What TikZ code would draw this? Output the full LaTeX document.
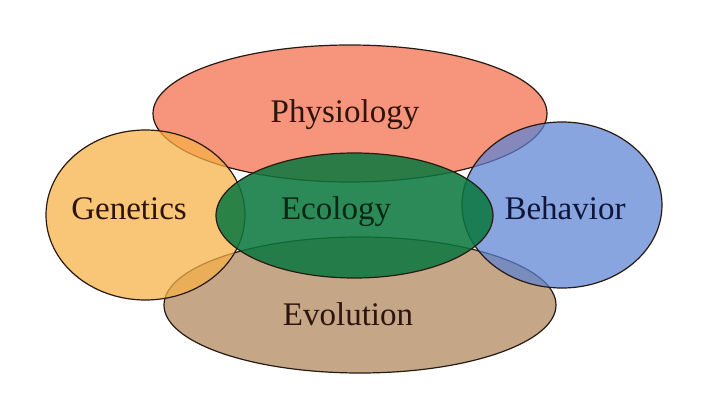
\documentclass[tikz,border=0pt]{standalone}
\usepackage{fontspec}
\setmainfont{Liberation Serif}
\definecolor{physC}{RGB}{244,108,74}
\definecolor{genC}{RGB}{248,177,69}
\definecolor{behC}{RGB}{91,131,212}
\definecolor{evoC}{RGB}{176,134,91}
\definecolor{ecoC}{RGB}{10,119,62}
\definecolor{edgeC}{RGB}{40,26,18}
\definecolor{txtBrown}{RGB}{45,20,12}
\definecolor{txtGreen}{RGB}{8,40,20}
\definecolor{txtNavy}{RGB}{14,22,60}
\tikzset{
  blob/.style={draw=edgeC, line width=1.2pt, fill opacity=0.72},
  lbl/.style={anchor=base, inner sep=0pt, font=\fontsize{33}{38}\selectfont}
}
\begin{document}
\begin{tikzpicture}[x=1pt,y=-1pt]
\useasboundingbox (0,0) rectangle (724,409);
\fill[white] (0,0) rectangle (724,409);
% shapes
\path[blob, fill=physC] (350,113.5) ellipse [x radius=197pt, y radius=68.5pt];
\path[blob, fill=evoC] (360,305) ellipse [x radius=196pt, y radius=68pt];
\path[blob, fill=genC] (145.5,215) ellipse [x radius=99.5pt, y radius=85pt];
\path[blob, fill=behC] (562,205) ellipse [x radius=100pt, y radius=83pt];
\path[blob, fill=ecoC, fill opacity=0.86] (354.5,215.5) ellipse [x radius=138.5pt, y radius=62.5pt];
% labels
\node[lbl, text=txtBrown] (phys) at (345,123) {Physiology};
\node[lbl, text=txtBrown] (gen) at (129,220) {Genetics};
\node[lbl, text=txtGreen] (eco) at (336,220) {Ecology};
\node[lbl, text=txtNavy] (beh) at (565,220) {Behavior};
\node[lbl, text=txtBrown] (evo) at (348,325) {Evolution};
\end{tikzpicture}
\end{document}
